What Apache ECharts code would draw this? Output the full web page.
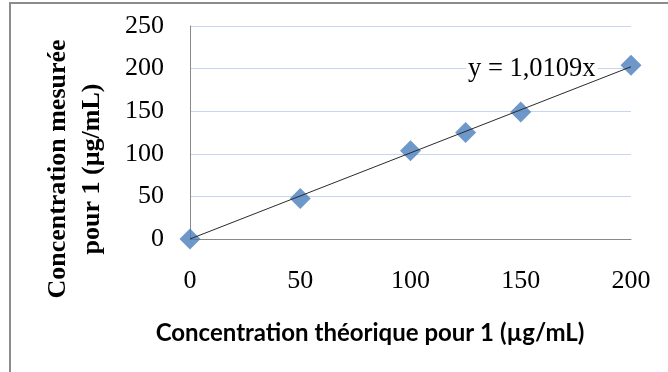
<!DOCTYPE html>
<html>
<head>
<meta charset="utf-8">
<script src="https://cdn.jsdelivr.net/npm/echarts@6/dist/echarts.min.js"></script>
<style>
  html, body { margin: 0; padding: 0; background: #fff; }
  #chart { width: 668px; height: 372px; }
</style>
</head>
<body>
<div id="chart"></div>
<script>
// Theoretical vs measured concentration for compound 1 (µg/mL)
const theoretical = [0, 50, 100, 125, 150, 200];
const measured = [0, 47.5, 103.5, 125, 149, 204];
const xTicks = [0, 50, 100, 150, 200];
const yTicks = [0, 50, 100, 150, 200, 250];
const slope = 1.0109;   // linear fit through the origin
const equationText = 'y = 1,0109x';
const xTitle = 'Concentration théorique pour 1 (µg/mL)';
const yTitleLines = ['Concentration mesurée', 'pour 1 (µg/mL)'];

const chart = echarts.init(document.getElementById('chart'), null, { renderer: 'canvas' });

const serif = '"Liberation Serif", "Times New Roman", serif';
const fitLine = [[xTicks[0], slope * xTicks[0]], [xTicks[xTicks.length - 1], slope * xTicks[xTicks.length - 1]]];

chart.setOption({
  animation: false,
  backgroundColor: '#fff',
  grid: { left: 190, right: 37, top: 26, bottom: 133, containLabel: false },
  xAxis: {
    type: 'value',
    min: xTicks[0],
    max: xTicks[xTicks.length - 1],
    interval: 50,
    splitLine: { show: false },
    axisTick: { show: false },
    axisLine: { show: true, onZero: false, lineStyle: { color: '#888', width: 1 } },
    axisLabel: { fontFamily: serif, fontSize: 26, color: '#000', margin: 29 }
  },
  yAxis: {
    type: 'value',
    min: yTicks[0],
    max: yTicks[yTicks.length - 1],
    interval: 50,
    splitLine: { show: true, lineStyle: { color: '#c5d7ee', width: 1 } },
    axisTick: { show: false },
    axisLine: { show: true, lineStyle: { color: '#888', width: 1 } },
    axisLabel: { fontFamily: serif, fontSize: 26, color: '#000', margin: 26 }
  },
  series: [
    {
      type: 'line',
      data: fitLine,
      symbol: 'none',
      lineStyle: { color: '#2a2a2a', width: 1 },
      z: 4,
      silent: true
    },
    {
      type: 'scatter',
      data: theoretical.map((x, i) => [x, measured[i]]),
      symbol: 'diamond',
      symbolSize: [21, 21],
      itemStyle: { color: '#4a7ebb' },
      clip: false,
      z: 3
    }
  ],
  graphic: [
    // chart frame (top and left edges)
    { type: 'rect', z: 0, shape: { x: 10, y: 3, width: 700, height: 400 },
      style: { fill: 'none', stroke: '#8c8c8c', lineWidth: 2 }, silent: true },
    // equation of the fitted line, on a white box over the gridline
    { type: 'text', z: 1, left: 466, top: 56,
      style: { text: equationText, font: '26.5px ' + serif, fill: '#000',
               backgroundColor: '#fff', padding: [0, 2, 0, 2] } },
    { type: 'text', x: 370, y: 333,
      style: { text: xTitle, font: 'bold 24px Lato, "Open Sans", sans-serif', fill: '#000',
               align: 'center', verticalAlign: 'middle', letterSpacing: 0.6 } },
    { type: 'text', x: 75, y: 169, rotation: Math.PI / 2,
      style: { text: yTitleLines.join('\n'), font: 'bold 26px ' + serif, fill: '#000',
               align: 'center', verticalAlign: 'middle', lineHeight: 34 } }
  ]
});
</script>
</body>
</html>
